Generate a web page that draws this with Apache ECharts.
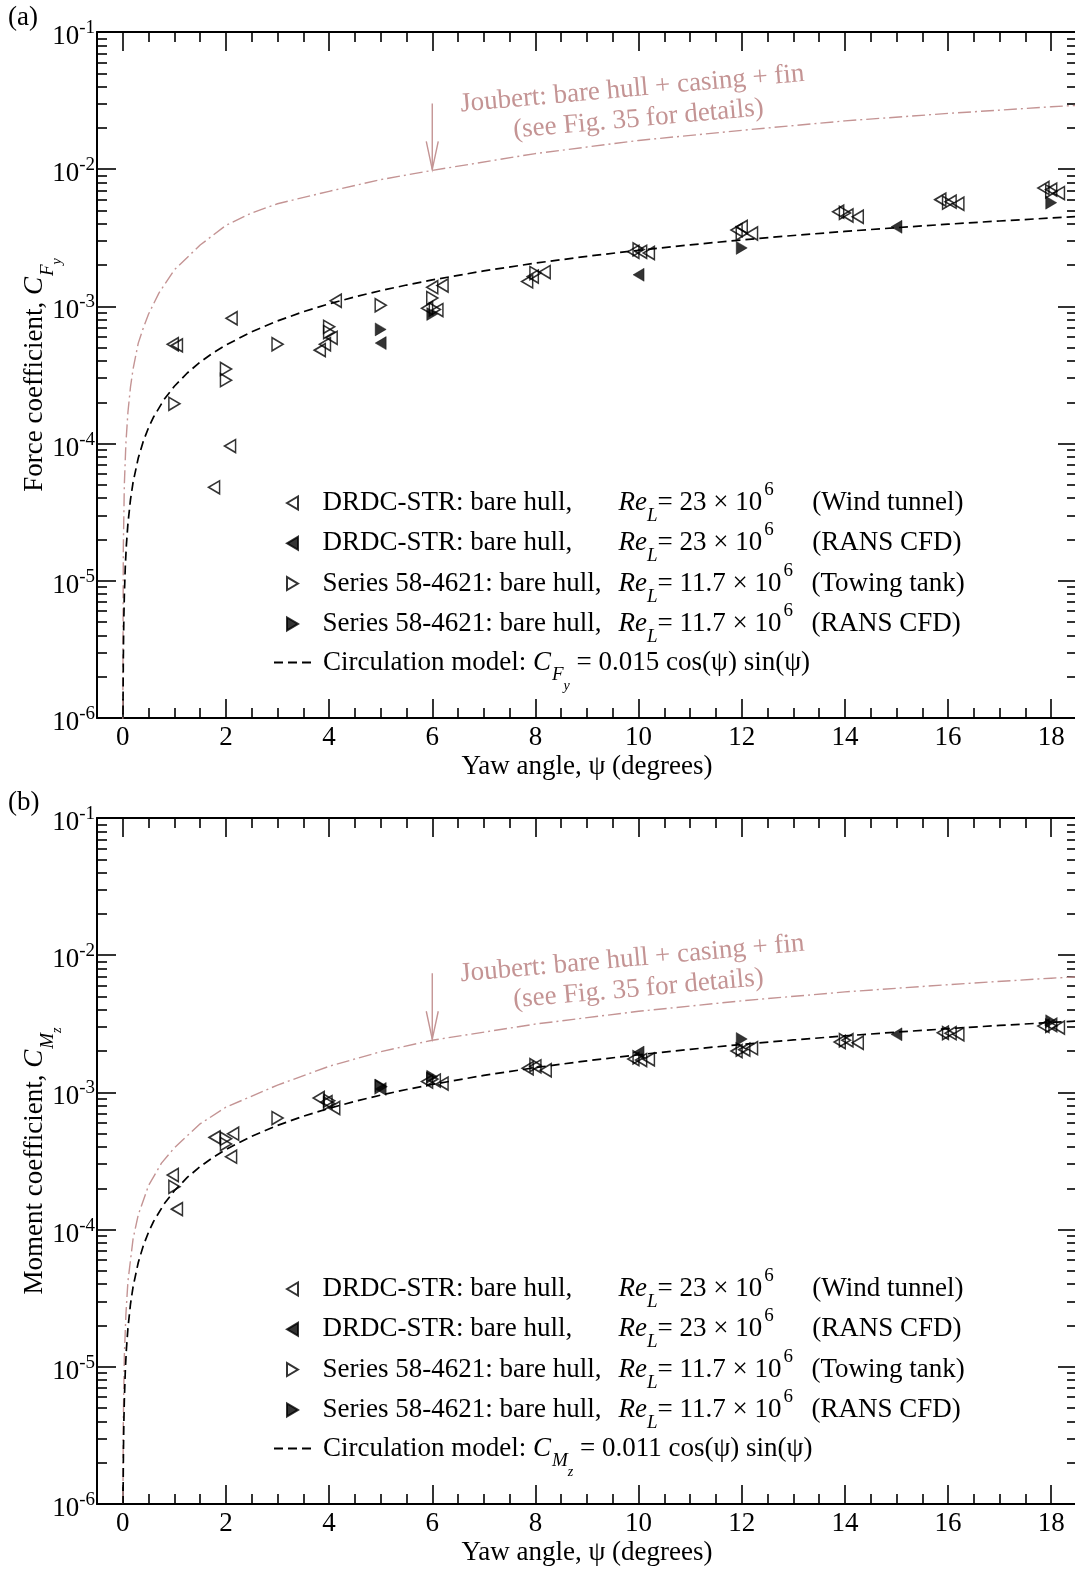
<!DOCTYPE html>
<html>
<head>
<meta charset="utf-8">
<script src="https://cdn.jsdelivr.net/npm/echarts@6/dist/echarts.min.js"></script>
<style>
  html, body { margin: 0; padding: 0; background: #ffffff; }
  #chart { width: 1075px; height: 1571px; }
</style>
</head>
<body>
<div id="chart"></div>
<script>
const FONT = "'Liberation Serif', 'Times New Roman', Times, serif";
const PINK = '#c49494';

// Yaw angle ticks (degrees)
const yawMajorTicks = [0, 2, 4, 6, 8, 10, 12, 14, 16, 18];
const yawMinorTicks = [0.5, 1, 1.5, 2.5, 3, 3.5, 4.5, 5, 5.5, 6.5, 7, 7.5, 8.5, 9, 9.5,
  10.5, 11, 11.5, 12.5, 13, 13.5, 14.5, 15, 15.5, 16.5, 17, 17.5];
// Coefficient axes span these decades
const decadeMin = -6;
const decadeMax = -1;
const minorMantissas = [2, 3, 4, 5, 6, 7, 8, 9];

// ---- (a) side force coefficient C_Fy : [yaw angle (deg), value] ----
const forceWindTunnel = [
  [0.97, 5.3e-4], [1.05, 5.2e-4], [1.77, 4.8e-5], [2.08, 9.6e-5], [2.11, 8.2e-4],
  [3.82, 4.8e-4], [3.92, 5.3e-4], [4.05, 5.9e-4], [4.13, 1.1e-3],
  [5.9, 9.7e-4], [6.0, 1.38e-3], [6.1, 9.4e-4], [6.2, 1.42e-3],
  [7.84, 1.52e-3], [7.95, 1.65e-3], [8.18, 1.78e-3],
  [9.9, 2.5e-3], [10.05, 2.5e-3], [10.2, 2.45e-3],
  [11.9, 3.6e-3], [12.0, 3.8e-3], [12.2, 3.4e-3],
  [13.87, 4.9e-3], [14.05, 4.6e-3], [14.25, 4.5e-3],
  [15.85, 6.0e-3], [16.05, 5.8e-3], [16.2, 5.6e-3],
  [17.85, 7.3e-3], [18.0, 7.1e-3], [18.15, 6.7e-3]
];
const forceDrdcCfd = [[5, 5.4e-4], [10, 1.7e-3], [15, 3.8e-3]];
const forceTowingTank = [
  [1, 1.95e-4], [2, 3.5e-4], [2, 2.9e-4], [3, 5.3e-4], [4, 7.1e-4], [4, 6.5e-4],
  [5, 1.02e-3], [6, 1.15e-3], [6.05, 9.5e-4], [8, 1.75e-3], [10, 2.6e-3],
  [12, 3.4e-3], [14, 4.8e-3], [16, 5.7e-3], [18, 6.9e-3]
];
const forceSeries58Cfd = [[5, 6.8e-4], [6, 8.8e-4], [12, 2.67e-3], [18, 5.7e-3]];
const forceJoubert = [
  [0.0003, 5e-7], [0.0006, 1.0e-6], [0.01, 1.7e-5], [0.03, 5.0e-5], [0.06, 1.0e-4],
  [0.1, 1.7e-4], [0.15, 2.6e-4], [0.2, 3.5e-4], [0.3, 5.4e-4], [0.4, 7.0e-4],
  [0.5, 8.8e-4], [0.7, 1.25e-3], [1, 1.85e-3], [1.5, 2.8e-3], [2, 3.9e-3],
  [2.5, 4.8e-3], [3, 5.6e-3], [4, 6.9e-3], [5, 8.4e-3], [6, 9.8e-3],
  [8, 1.3e-2], [10, 1.62e-2], [12, 1.92e-2], [14, 2.25e-2], [16, 2.55e-2],
  [18, 2.85e-2], [18.5, 2.92e-2]
];

// ---- (b) yaw moment coefficient C_Mz ----
const momentWindTunnel = [
  [0.97, 2.5e-4], [1.05, 1.41e-4], [1.78, 4.7e-4], [2.1, 3.4e-4], [2.14, 5.0e-4],
  [3.8, 9.1e-4], [3.95, 8.5e-4], [4.1, 7.7e-4],
  [5.9, 1.2e-3], [6.05, 1.22e-3], [6.2, 1.16e-3],
  [7.85, 1.5e-3], [8.0, 1.55e-3], [8.2, 1.45e-3],
  [9.9, 1.75e-3], [10.05, 1.72e-3], [10.2, 1.74e-3],
  [11.9, 2.0e-3], [12.05, 2.05e-3], [12.2, 2.1e-3],
  [13.9, 2.33e-3], [14.05, 2.4e-3], [14.25, 2.3e-3],
  [15.9, 2.72e-3], [16.05, 2.7e-3], [16.2, 2.65e-3],
  [17.85, 3.05e-3], [18.0, 3.1e-3], [18.15, 2.97e-3]
];
const momentDrdcCfd = [[5, 1.06e-3], [10, 1.95e-3], [15, 2.65e-3]];
const momentTowingTank = [
  [1, 2.05e-4], [2, 4.6e-4], [2, 4.2e-4], [3, 6.5e-4], [4, 8.7e-4], [4, 8.3e-4],
  [5, 1.1e-3], [6, 1.25e-3], [8, 1.58e-3], [10, 1.8e-3], [12, 2.05e-3],
  [14, 2.4e-3], [16, 2.7e-3], [18, 3.05e-3]
];
const momentSeries58Cfd = [[5, 1.12e-3], [6, 1.3e-3], [12, 2.45e-3], [18, 3.3e-3]];
const momentJoubert = [
  [0.0025, 1.0e-6], [0.01, 4.0e-6], [0.03, 1.2e-5], [0.06, 2.4e-5], [0.1, 4.2e-5],
  [0.2, 8.6e-5], [0.3, 1.28e-4], [0.5, 2.1e-4], [0.75, 3.05e-4], [1, 3.95e-4],
  [1.5, 5.9e-4], [2, 7.8e-4], [3, 1.13e-3], [4, 1.55e-3], [5, 1.98e-3],
  [6, 2.4e-3], [8, 3.15e-3], [10, 3.9e-3], [12, 4.65e-3], [14, 5.4e-3],
  [16, 6.1e-3], [18, 6.8e-3], [18.5, 6.95e-3]
];

// Circulation model: C = k cos(psi) sin(psi), k as given in the legend
const forceModelCoef = 0.015;
const momentModelCoef = 0.011;
const modelAngles = [0.002, 0.004, 0.006, 0.01, 0.015, 0.02, 0.03, 0.05, 0.07, 0.1, 0.15,
  0.2, 0.3, 0.4, 0.5, 0.6, 0.8, 1, 1.25, 1.5, 1.75, 2, 2.5, 3, 3.5, 4, 4.5, 5, 5.5, 6,
  7, 8, 9, 10, 11, 12, 13, 14, 15, 16, 17, 18, 18.5];

function circulationModel(k) {
  return modelAngles.map(a => {
    const r = a * Math.PI / 180;
    return [a, k * Math.cos(r) * Math.sin(r)];
  });
}

// minor log ticks, expressed as log10 values on a helper axis
const minorLogTicks = [];
for (let e = decadeMin; e < decadeMax; e++) {
  minorMantissas.forEach(m => minorLogTicks.push(e + Math.log10(m)));
}

const BLACK = '#000000';
const AXIS_W = 2;
const TICK_W = 1.6;

function xAxesFor(gridIndex) {
  const base = {
    gridIndex, type: 'value', min: -0.5, max: 18.5,
    splitLine: { show: false }, axisPointer: { show: false }
  };
  return [
    Object.assign({}, base, {
      position: 'bottom',
      axisLine: { show: true, onZero: false, lineStyle: { color: BLACK, width: AXIS_W } },
      axisTick: { show: true, inside: true, length: 19, customValues: yawMajorTicks,
        lineStyle: { color: BLACK, width: TICK_W } },
      axisLabel: { show: true, customValues: yawMajorTicks, margin: 6,
        fontFamily: FONT, fontSize: 27, color: BLACK },
      name: 'Yaw angle, ψ (degrees)', nameLocation: 'middle', nameGap: 35, nameMoveOverlap: false,
      nameTextStyle: { fontFamily: FONT, fontSize: 27, color: BLACK }
    }),
    Object.assign({}, base, {
      position: 'top',
      axisLine: { show: true, onZero: false, lineStyle: { color: BLACK, width: AXIS_W } },
      axisTick: { show: true, inside: true, length: 19, customValues: yawMajorTicks,
        lineStyle: { color: BLACK, width: TICK_W } },
      axisLabel: { show: false }
    }),
    Object.assign({}, base, {
      position: 'bottom',
      axisLine: { show: false, onZero: false },
      axisTick: { show: true, inside: true, length: 10, customValues: yawMinorTicks,
        lineStyle: { color: BLACK, width: TICK_W } },
      axisLabel: { show: false }
    }),
    Object.assign({}, base, {
      position: 'top',
      axisLine: { show: false, onZero: false },
      axisTick: { show: true, inside: true, length: 10, customValues: yawMinorTicks,
        lineStyle: { color: BLACK, width: TICK_W } },
      axisLabel: { show: false }
    })
  ];
}

const yLabelRich = {
  b: { fontFamily: FONT, fontSize: 27, color: BLACK, padding: [10, 0, 0, 0], verticalAlign: 'top' },
  s: { fontFamily: FONT, fontSize: 19, color: BLACK, padding: [5, 0, 0, 0], verticalAlign: 'top' }
};

function yNameRich() {
  return {
    t: { fontFamily: FONT, fontSize: 27, color: BLACK, padding: [15.5, 0, 0, 0], verticalAlign: 'top' },
    i: { fontFamily: FONT, fontSize: 27, fontStyle: 'italic', color: BLACK, padding: [15.5, 0, 0, 0], verticalAlign: 'top' },
    s1: { fontFamily: FONT, fontSize: 19, fontStyle: 'italic', color: BLACK, padding: [32.5, 0, 0, 1], verticalAlign: 'top' },
    s2: { fontFamily: FONT, fontSize: 14, fontStyle: 'italic', color: BLACK, padding: [44, 0, 0, 0], verticalAlign: 'top' }
  };
}

function yAxesFor(gridIndex, title) {
  const logBase = {
    gridIndex, type: 'log', logBase: 10, min: Math.pow(10, decadeMin), max: Math.pow(10, decadeMax),
    splitLine: { show: false }, minorTick: { show: false }, axisPointer: { show: false }
  };
  const minorBase = {
    gridIndex, type: 'value', min: decadeMin, max: decadeMax,
    splitLine: { show: false }, axisLabel: { show: false }, axisPointer: { show: false },
    axisLine: { show: false, onZero: false }
  };
  return [
    Object.assign({}, logBase, {
      position: 'left',
      axisLine: { show: true, onZero: false, lineStyle: { color: BLACK, width: AXIS_W } },
      axisTick: { show: true, inside: true, length: 19, lineStyle: { color: BLACK, width: TICK_W } },
      axisLabel: {
        show: true, margin: 2, showMinLabel: true, showMaxLabel: true,
        formatter: v => '{b|10}{s|' + Math.round(Math.log10(v)) + '}',
        rich: yLabelRich
      },
      name: title, nameLocation: 'middle', nameGap: 33, nameMoveOverlap: false,
      nameTextStyle: { rich: yNameRich() }
    }),
    Object.assign({}, logBase, {
      position: 'right',
      axisLine: { show: true, onZero: false, lineStyle: { color: BLACK, width: AXIS_W } },
      axisTick: { show: true, inside: true, length: 19, lineStyle: { color: BLACK, width: TICK_W } },
      axisLabel: { show: false }
    }),
    Object.assign({}, minorBase, {
      position: 'left',
      axisTick: { show: true, inside: true, length: 10, customValues: minorLogTicks,
        lineStyle: { color: BLACK, width: TICK_W } }
    }),
    Object.assign({}, minorBase, {
      position: 'right',
      axisTick: { show: true, inside: true, length: 10, customValues: minorLogTicks,
        lineStyle: { color: BLACK, width: TICK_W } }
    })
  ];
}

// Marker styles
const hollow = { color: 'rgba(0,0,0,0)', borderColor: BLACK, borderWidth: 1.6 };
const solid = { color: BLACK, borderColor: BLACK, borderWidth: 0.5 };
const TRI = [13, 11];
const LEFT_TRI = 'path://M0,6.5L11,0L11,13Z';
const RIGHT_TRI = 'path://M11,6.5L0,0L0,13Z';

function panelSeries(axisIdx, names, sets, modelCoef, joubert) {
  const common = { xAxisIndex: axisIdx, yAxisIndex: axisIdx, animation: false };
  return [
    Object.assign({}, common, {
      name: names.joubert, type: 'line', data: joubert, showSymbol: false, symbol: 'none',
      smooth: false, silent: true, z: 1,
      lineStyle: { color: PINK, width: 1.4, type: [13, 4, 2, 4] }
    }),
    Object.assign({}, common, {
      name: names.model, type: 'line', data: circulationModel(modelCoef), showSymbol: false,
      symbol: 'none', silent: true, z: 2,
      itemStyle: { color: 'rgba(0,0,0,0)', opacity: 0 },
      lineStyle: { color: BLACK, width: 1.7, type: [9, 5] }
    }),
    Object.assign({}, common, {
      name: names.wind, type: 'scatter', data: sets.wind, symbol: 'triangle',
      symbolSize: TRI, symbolRotate: 90, itemStyle: hollow, z: 3
    }),
    Object.assign({}, common, {
      name: names.drdcCfd, type: 'scatter', data: sets.drdcCfd, symbol: 'triangle',
      symbolSize: TRI, symbolRotate: 90, itemStyle: solid, z: 3
    }),
    Object.assign({}, common, {
      name: names.tow, type: 'scatter', data: sets.tow, symbol: 'triangle',
      symbolSize: TRI, symbolRotate: -90, itemStyle: hollow, z: 3
    }),
    Object.assign({}, common, {
      name: names.s58Cfd, type: 'scatter', data: sets.s58Cfd, symbol: 'triangle',
      symbolSize: TRI, symbolRotate: -90, itemStyle: solid, z: 3
    })
  ];
}

const forceNames = {
  joubert: 'Joubert C_Fy', model: 'Circulation model C_Fy',
  wind: 'DRDC-STR wind tunnel C_Fy', drdcCfd: 'DRDC-STR RANS CFD C_Fy',
  tow: 'Series 58-4621 towing tank C_Fy', s58Cfd: 'Series 58-4621 RANS CFD C_Fy'
};
const momentNames = {
  joubert: 'Joubert C_Mz', model: 'Circulation model C_Mz',
  wind: 'DRDC-STR wind tunnel C_Mz', drdcCfd: 'DRDC-STR RANS CFD C_Mz',
  tow: 'Series 58-4621 towing tank C_Mz', s58Cfd: 'Series 58-4621 RANS CFD C_Mz'
};

// Legend entry texts (rich text)
const legendText = {};
[forceNames, momentNames].forEach(n => {
  legendText[n.wind] = '{a|DRDC-STR: bare hull,}{i|Re}{sub|L}{t|= 23 × 10}{supA|6}{t|(Wind tunnel)}';
  legendText[n.drdcCfd] = '{a|DRDC-STR: bare hull,}{i|Re}{sub|L}{t|= 23 × 10}{supA|6}{t|(RANS CFD)}';
  legendText[n.tow] = '{a|Series 58-4621: bare hull,}{i|Re}{sub|L}{t|= 11.7 × 10}{supB|6}{t|(Towing tank)}';
  legendText[n.s58Cfd] = '{a|Series 58-4621: bare hull,}{i|Re}{sub|L}{t|= 11.7 × 10}{supB|6}{t|(RANS CFD)}';
});
legendText[forceNames.model] = '{t|Circulation model: }{i|C}{s1|F}{s2|y}{t| = 0.015 cos(ψ) sin(ψ)}';
legendText[momentNames.model] = '{t|Circulation model: }{i|C}{s1|M}{s2|z}{t| = 0.011 cos(ψ) sin(ψ)}';

const markerLegendRich = {
  a: { fontFamily: FONT, fontSize: 27, color: BLACK, padding: [9, 0, 0, 0], verticalAlign: 'top', width: 296 },
  t: { fontFamily: FONT, fontSize: 27, color: BLACK, padding: [9, 0, 0, 0], verticalAlign: 'top' },
  i: { fontFamily: FONT, fontSize: 27, fontStyle: 'italic', color: BLACK, padding: [9, 0, 0, 0], verticalAlign: 'top' },
  sub: { fontFamily: FONT, fontSize: 19, fontStyle: 'italic', color: BLACK, padding: [26, 0, 0, 0], verticalAlign: 'top' },
  supA: { fontFamily: FONT, fontSize: 19, color: BLACK, padding: [0, 0, 0, 2], verticalAlign: 'top', width: 48 },
  supB: { fontFamily: FONT, fontSize: 19, color: BLACK, padding: [0, 0, 0, 2], verticalAlign: 'top', width: 28 }
};
const modelLegendRich = {
  t: { fontFamily: FONT, fontSize: 27, color: BLACK, padding: [17.5, 0, 0, 0], verticalAlign: 'top' },
  i: { fontFamily: FONT, fontSize: 27, fontStyle: 'italic', color: BLACK, padding: [17.5, 0, 0, 0], verticalAlign: 'top' },
  s1: { fontFamily: FONT, fontSize: 19, fontStyle: 'italic', color: BLACK, padding: [33.5, 0, 0, 1], verticalAlign: 'top' },
  s2: { fontFamily: FONT, fontSize: 14, fontStyle: 'italic', color: BLACK, padding: [48, 0, 0, 0], verticalAlign: 'top' }
};

function legendsFor(names, rowTop, modelTop) {
  return [
    {
      orient: 'vertical', left: 286, top: rowTop, padding: 0, itemGap: -4.7,
      itemWidth: 12, itemHeight: 13, selectedMode: false,
      data: [
        { name: names.wind, icon: LEFT_TRI },
        { name: names.drdcCfd, icon: LEFT_TRI },
        { name: names.tow, icon: RIGHT_TRI },
        { name: names.s58Cfd, icon: RIGHT_TRI }
      ],
      formatter: n => legendText[n],
      textStyle: { padding: [0, 0, 0, 19], rich: markerLegendRich }
    },
    {
      orient: 'vertical', left: 273, top: modelTop, padding: 0,
      itemWidth: 42, itemHeight: 13, selectedMode: false,
      itemStyle: { opacity: 0 },
      data: [names.model],
      formatter: n => legendText[n],
      textStyle: { padding: [0, 0, 0, 2], rich: modelLegendRich }
    }
  ];
}

const chart = echarts.init(document.getElementById('chart'), null, { renderer: 'canvas' });

const option = {
  backgroundColor: '#ffffff',
  animation: false,
  textStyle: { fontFamily: FONT },
  grid: [
    { left: 97, top: 32, width: 980, height: 686, containLabel: false, outerBoundsMode: 'none' },
    { left: 97, top: 818, width: 980, height: 686, containLabel: false, outerBoundsMode: 'none' }
  ],
  xAxis: xAxesFor(0).concat(xAxesFor(1)),
  yAxis: yAxesFor(0, '{t|Force coefficient, }{i|C}{s1|F}{s2|y}')
    .concat(yAxesFor(1, '{t|Moment coefficient, }{i|C}{s1|M}{s2|z}')),
  legend: legendsFor(forceNames, 480.5, 649).concat(legendsFor(momentNames, 1266.5, 1435)),
  series: panelSeries(0, forceNames,
      { wind: forceWindTunnel, drdcCfd: forceDrdcCfd, tow: forceTowingTank, s58Cfd: forceSeries58Cfd },
      forceModelCoef, forceJoubert)
    .concat(panelSeries(4, momentNames,
      { wind: momentWindTunnel, drdcCfd: momentDrdcCfd, tow: momentTowingTank, s58Cfd: momentSeries58Cfd },
      momentModelCoef, momentJoubert))
};

chart.setOption(option);

// Annotation pointing at the Joubert curve at 6 degrees
function joubertNote(axisIdx, joubert) {
  const at6 = joubert.find(p => p[0] === 6);
  const tip = chart.convertToPixel({ xAxisIndex: axisIdx, yAxisIndex: axisIdx }, at6);
  const tx = tip[0], ty = tip[1];
  const rot = 5.1 * Math.PI / 180;
  const textStyle = (text) => ({
    text, fill: PINK, font: '27px ' + FONT,
    textAlign: 'left', textVerticalAlign: 'middle', align: 'left', verticalAlign: 'middle'
  });
  return [
    { type: 'polyline', silent: true, shape: { points: [[tx, ty - 67], [tx, ty - 1]] },
      style: { stroke: PINK, lineWidth: 1.4, fill: null } },
    { type: 'polyline', silent: true, shape: { points: [[tx - 6, ty - 29], [tx, ty - 1], [tx + 6, ty - 29]] },
      style: { stroke: PINK, lineWidth: 1.4, fill: null } },
    { type: 'text', silent: true, x: tx + 28, y: ty - 66, rotation: rot,
      style: textStyle('Joubert: bare hull + casing + fin') },
    { type: 'text', silent: true, x: tx + 81, y: ty - 40, rotation: rot,
      style: textStyle('(see Fig. 35 for details)') }
  ];
}

const panelTag = (text, y) => ({
  type: 'text', silent: true, x: 8, y,
  style: { text, fill: BLACK, font: '27px ' + FONT, textAlign: 'left', textVerticalAlign: 'middle',
    align: 'left', verticalAlign: 'middle' }
});

chart.setOption({
  graphic: {
    elements: [panelTag('(a)', 18), panelTag('(b)', 803)]
      .concat(joubertNote(0, forceJoubert))
      .concat(joubertNote(4, momentJoubert))
  }
});
</script>
</body>
</html>
